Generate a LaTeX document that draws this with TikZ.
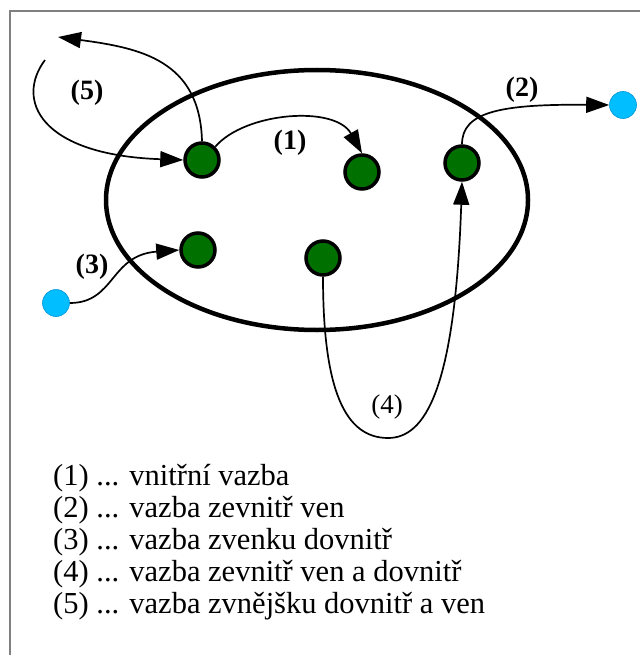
\documentclass[tikz,border=0pt]{standalone}
\usepackage{fontspec}
\setmainfont{Liberation Serif}
\usetikzlibrary{arrows.meta}

\begin{document}
\begin{tikzpicture}[x=1pt,y=-1pt,
  prvek/.style={circle,draw=black,line width=3.5pt,fill={rgb,255:red,0;green,112;blue,0},minimum size=34pt,inner sep=0pt},
  okoli/.style={circle,draw={rgb,255:red,0;green,150;blue,220},line width=0.6pt,fill={rgb,255:red,0;green,190;blue,255},minimum size=27pt,inner sep=0pt},
  vazba/.style={line width=1.7pt,-{Triangle[length=23pt,width=16pt]}},
  cislo/.style={font=\fontsize{28}{30}\selectfont\bfseries},
  legenda/.style={font=\fontsize{30.5}{32}\selectfont,anchor=base west,inner sep=0pt}]
\useasboundingbox (0,0) rectangle (640,655);
\draw[line width=2.5pt,color=gray] (10,655) -- (10,11) -- (640,11);
% system
\draw[line width=4.5pt] (317,200) ellipse [x radius=211,y radius=130];
\node[prvek] (A) at (202,160) {};
\node[prvek] (B) at (362,172) {};
\node[prvek] (C) at (462,163) {};
\node[prvek] (D) at (198,250) {};
\node[prvek] (E) at (323,258) {};
% okoli
\node[okoli] (L) at (56,303) {};
\node[okoli] (R) at (623,105) {};
\coordinate (ven5) at (58,37);
\coordinate (dov5) at (45,60);
% vazby
\draw[vazba] (A.north east) .. controls (245,112) and (335,105) .. (B.north);
\draw[vazba] (C.north) .. controls (462,112) and (500,104) .. (R.west);
\draw[vazba] (L.east) .. controls (115,303) and (110,255) .. (D.west);
\draw[line width=1.7pt] (E.south) .. controls (323,390) and (345,438) .. (388,438);
\draw[vazba] (388,438) .. controls (425,438) and (455,390) .. (C.south);
\draw[vazba] (A.north) .. controls (200,60) and (140,48) .. (ven5);
\draw[vazba] (dov5) .. controls (15,100) and (40,155) .. (A.west);
% cisla
\node[cislo] (n1) at (290,143) {(1)};
\node[cislo] (n2) at (522,90) {(2)};
\node[cislo] (n3) at (92,267) {(3)};
\node[font=\fontsize{27}{30}\selectfont] (n4) at (387,407) {(4)};
\node[cislo] (n5) at (87,93) {(5)};
% legenda
\foreach \i/\txt in {1/vnitřní vazba,2/vazba zevnitř ven,3/vazba zvenku dovnitř,4/vazba zevnitř ven a dovnitř,5/vazba zvnějšku dovnitř a ven}
  \node[legenda] (leg\i) at (53,{485+32*(\i-1)}) {(\i) ... \txt};
\end{tikzpicture}
\end{document}
